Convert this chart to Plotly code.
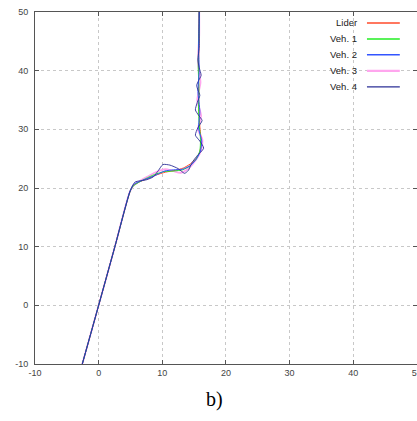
import plotly.graph_objects as go

# ---------------- data ----------------
series_names = ["Lider", "Veh. 1", "Veh. 2", "Veh. 3", "Veh. 4"]

lider_x = [-2.57, 0.0, 2.5, 4.95, 5.5, 6.3, 7.5, 9.0, 10.5, 12.0, 13.3, 14.4, 15.3, 15.9, 16.1, 15.9, 15.75, 15.7, 15.7, 15.75, 15.8, 15.8]
lider_y = [-10, 0, 9.8, 19.5, 20.5, 21.0, 21.5, 22.2, 22.7, 23.0, 23.4, 24.1, 25.0, 26.2, 28.0, 30.5, 33.5, 37.0, 40.5, 44.0, 47.5, 50.0]

veh1_x = [-2.57, 0.0, 2.5, 4.9, 5.4, 6.2, 7.4, 8.8, 10.3, 11.8, 13.2, 14.4, 15.3, 15.9, 16.0, 15.8, 15.7, 15.75, 15.65, 15.7, 15.8, 15.8]
veh1_y = [-10, 0, 9.8, 19.3, 20.3, 20.9, 21.6, 22.3, 22.8, 22.9, 23.1, 23.8, 24.9, 26.3, 28.3, 30.8, 33.6, 37.0, 40.6, 44.1, 47.6, 50.0]

veh2_x = [-2.57, 0.0, 2.5, 4.9, 5.5, 6.4, 7.6, 9.0, 10.4, 11.8, 13.2, 14.5, 15.4, 16.0, 16.2, 15.7, 15.9, 15.6, 15.8, 15.7, 15.8, 15.8]
veh2_y = [-10, 0, 9.8, 19.4, 20.6, 21.1, 21.6, 22.2, 22.9, 23.1, 23.2, 23.9, 25.0, 26.3, 28.0, 30.2, 33.0, 36.5, 40.0, 43.8, 47.5, 50.0]

veh3_x = [-2.57, 0.0, 2.5, 4.85, 5.4, 6.5, 7.8, 9.2, 10.5, 11.7, 12.9, 14.2, 15.3, 16.1, 16.3, 15.6, 16.1, 15.5, 16.0, 15.6, 15.8, 15.8]
veh3_y = [-10, 0, 9.8, 19.2, 20.3, 21.2, 22.0, 22.8, 23.2, 22.9, 22.6, 23.4, 24.8, 26.4, 28.2, 30.0, 32.3, 35.0, 38.0, 41.5, 46.0, 50.0]

veh4_x = [-2.57, 0.0, 2.5, 5.0, 5.7, 7.5, 8.6, 9.4, 10.1, 11.2, 12.5, 13.5, 14.1, 14.6, 15.4, 16.5, 15.9, 15.2, 15.6, 16.25, 15.7, 15.2, 15.5, 15.9, 15.6, 15.4, 15.7, 16.1, 15.8, 15.6, 15.8, 15.75, 15.8]
veh4_y = [-10, 0, 9.8, 19.6, 21.0, 21.4, 21.9, 23.0, 24.0, 23.9, 23.3, 22.5, 23.0, 24.2, 25.4, 26.8, 28.0, 29.0, 30.3, 31.5, 32.4, 33.3, 34.6, 35.8, 36.7, 37.5, 38.3, 39.2, 40.5, 41.8, 44.0, 47.0, 50.0]

tick_vals = [-10, 0, 10, 20, 30, 40, 50]
caption = "b)"

# ---------------- styling ----------------
colors = ["#ff4a2a", "#22ee22", "#3355ff", "#ffa6ee", "#2b2f96"]
widths = [1, 1, 1, 1.8, 0.9]
xs = [lider_x, veh1_x, veh2_x, veh3_x, veh4_x]
ys = [lider_y, veh1_y, veh2_y, veh3_y, veh4_y]
draw_order = [3, 0, 1, 2, 4]   # the wide pink line sits underneath

fig = go.Figure()
for i in draw_order:
    fig.add_trace(go.Scatter(x=xs[i], y=ys[i], mode="lines", name=series_names[i],
                             line=dict(color=colors[i], width=widths[i], shape="spline", smoothing=0.6),
                             showlegend=False, hoverinfo="skip"))

axis_common = dict(
    showgrid=True, gridcolor="#c8c8c8", griddash="dot", gridwidth=1,
    zeroline=False, showline=True, linecolor="#555555", linewidth=1, mirror="allticks",
    ticks="inside", ticklen=4, tickcolor="#555555", automargin=False,
    tickvals=tick_vals, ticktext=[str(v) for v in tick_vals],
    tickfont=dict(family="Liberation Sans, Arial, sans-serif", size=9, color="#444444"),
)
fig.update_xaxes(range=[-10, 50.02], ticklabeloverflow="allow", **axis_common)
fig.update_yaxes(range=[-10, 50], ticklabelstandoff=4, ticklabeloverflow="allow", **axis_common)

# manual legend (text, then a line sample to its right)
shapes = []
annotations = []
top = 0.969
step = 0.0454
for i, (name, c, w) in enumerate(zip(series_names, colors, widths)):
    yy = top - i * step
    annotations.append(dict(x=0.848, y=yy, xref="paper", yref="paper", text=name,
                            showarrow=False, xanchor="right", yanchor="middle",
                            font=dict(family="Liberation Sans, Arial, sans-serif", size=9.5, color="#222222")))
    shapes.append(dict(type="line", xref="paper", yref="paper", x0=0.869, x1=0.955, y0=yy, y1=yy,
                       line=dict(color=c, width=w + 0.5)))

annotations.append(dict(x=0.47, y=-0.10, xref="paper", yref="paper", text=caption, showarrow=False,
                        xanchor="center", yanchor="middle",
                        font=dict(family="Liberation Serif, Times New Roman, serif", size=20, color="#000000")))

fig.update_layout(
    width=417, height=421,
    margin=dict(l=35, r=0, t=12, b=57),
    paper_bgcolor="white", plot_bgcolor="white",
    shapes=shapes, annotations=annotations,
    showlegend=False,
)

fig.write_html("out.html", config={"displayModeBar": False},
               post_script="document.body.style.margin='0';document.body.style.overflow='hidden';")
